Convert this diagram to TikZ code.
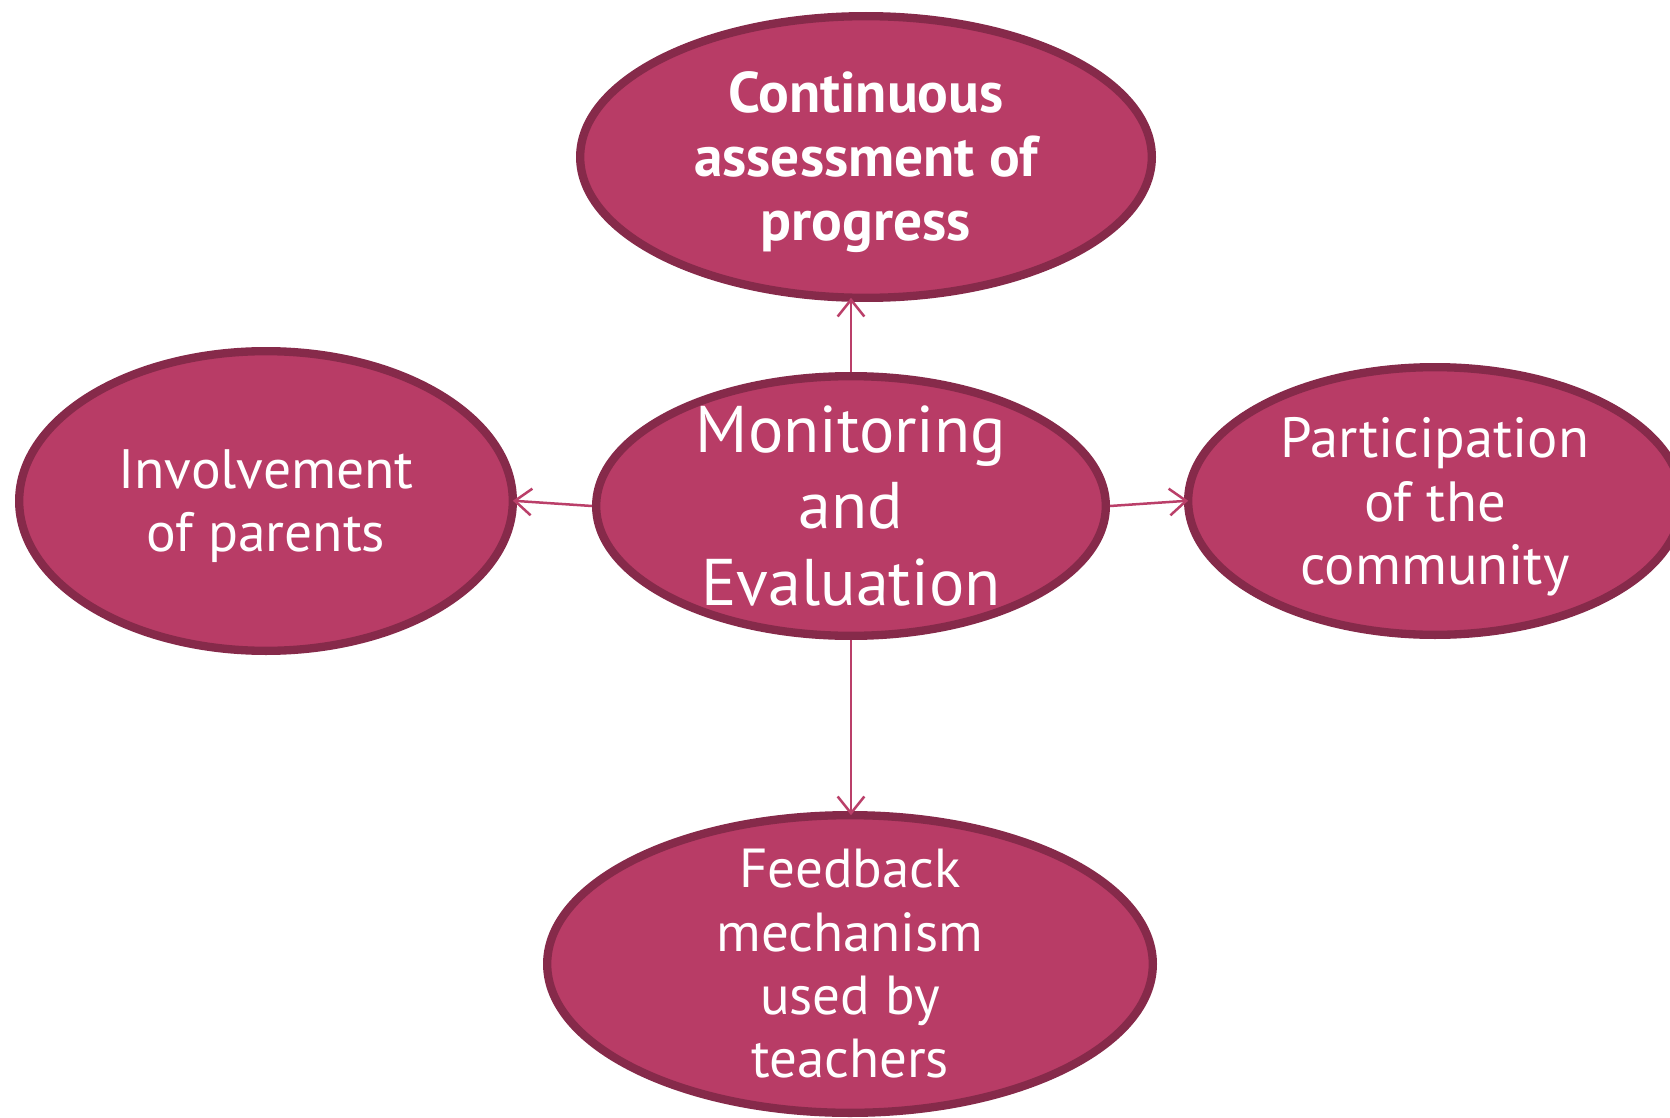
\documentclass[tikz,border=0pt]{standalone}
\usepackage{fontspec}
\setmainfont{PT Sans}
\usetikzlibrary{shapes.geometric,arrows.meta}
\definecolor{bubfill}{HTML}{B83C66}
\definecolor{bubline}{HTML}{862A4A}
\definecolor{arrcol}{HTML}{BA3F69}
\tikzset{
  bub/.style={ellipse, draw=bubline, fill=bubfill, line width=5pt, inner sep=0pt},
  txt/.style={text=white, align=center, inner sep=0pt},
  conn/.style={draw=arrcol, line width=1.5pt, -{Straight Barb[length=10pt,width=16pt,line width=1.5pt]}},
}
\begin{document}
\begin{tikzpicture}[x=0.6pt,y=-0.6pt]
\useasboundingbox (0,0) rectangle (1670,1118);
\clip (0,0) rectangle (1670,1118);
\node[bub, minimum width=343pt, minimum height=169pt] (top) at (866,157) {};
\node[bub, minimum width=296.2pt, minimum height=179.8pt] (left) at (266,501) {};
\node[bub, minimum width=305.8pt, minimum height=155.8pt] (mid) at (851,506) {};
\node[bub, minimum width=296.2pt, minimum height=160.6pt] (right) at (1435,501) {};
\node[bub, minimum width=363.4pt, minimum height=178.6pt] (bot) at (850,964) {};
\node[txt, font=\fontsize{34.4}{38.3}\selectfont\bfseries, yshift=-3.2pt] (topt) at (top) {Continuous\\assessment of\\progress};
\node[txt, font=\fontsize{33.3}{38}\selectfont, yshift=-3.2pt] (leftt) at (left) {Involvement\\of parents};
\node[txt, font=\fontsize{39.6}{46}\selectfont] (midt) at (mid) {Monitoring\\and\\Evaluation};
\node[txt, font=\fontsize{34}{38}\selectfont, yshift=-3.5pt] (rightt) at (right) {Participation\\of the\\community};
\node[txt, font=\fontsize{33}{38}\selectfont] (bott) at (bot) {Feedback\\mechanism\\used by\\teachers};
\draw[conn, shorten >=-2.5pt] (mid.north) -- (mid.north |- top.south);
\draw[conn, shorten >=-2.5pt] (mid.west) -- (left.east);
\draw[conn, shorten >=-2.5pt] (mid.east) -- (right.west);
\draw[conn, shorten >=-2.5pt] (mid.south) -- (mid.south |- bot.north);
\end{tikzpicture}
\end{document}
